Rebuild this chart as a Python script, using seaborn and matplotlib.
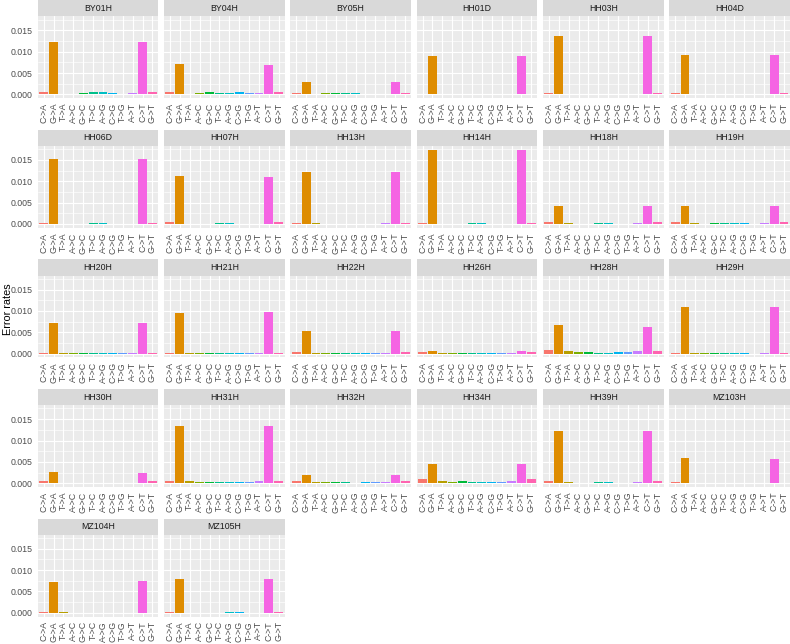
import numpy as np
import pandas as pd
import matplotlib
matplotlib.use("Agg")
import matplotlib.pyplot as plt
import seaborn as sns

# ------------------------------
# Data
# ------------------------------
mutations = ["C->A", "G->A", "T->A", "A->C", "G->C", "T->C",
             "A->G", "C->G", "T->G", "A->T", "C->T", "G->T"]

colors = ["#F8766D", "#DE8C00", "#B79F00", "#7CAE00", "#00BA38", "#00C08B",
          "#00BFC4", "#00B4F0", "#619CFF", "#C77CFF", "#F564E3", "#FF64B0"]

samples = ["BY01H", "BY04H", "BY05H", "HH01D", "HH03H", "HH04D",
           "HH06D", "HH07H", "HH13H", "HH14H", "HH18H", "HH19H",
           "HH20H", "HH21H", "HH22H", "HH26H", "HH28H", "HH29H",
           "HH30H", "HH31H", "HH32H", "HH34H", "HH39H", "MZ103H",
           "MZ104H", "MZ105H"]

BY01H = [0.00055, 0.0122, 0.0002, 0.0002, 0.0003, 0.0005, 0.0005, 0.0003, 0.0002, 0.0003, 0.0122, 0.0005]
BY04H = [0.0005, 0.0072, 0.0002, 0.0003, 0.0005, 0.0003, 0.0003, 0.0005, 0.0003, 0.0003, 0.0069, 0.0006]
BY05H = [0.0003, 0.0029, 0.0001, 0.0003, 0.0003, 0.0004, 0.0004, 0.0002, 0.0002, 0.0002, 0.0030, 0.0003]
HH01D = [0.0002, 0.0090, 0.00002, 0.00002, 0.00002, 0.00002, 0.00002, 0.00002, 0.00002, 0.00002, 0.0090, 0.00002]
HH03H = [0.0003, 0.0137, 0.00003, 0.00003, 0.00003, 0.0001, 0.0001, 0.00003, 0.00003, 0.00003, 0.0136, 0.0003]
HH04D = [0.0003, 0.0093, 0.0001, 0.0001, 0.0001, 0.0002, 0.0002, 0.0001, 0.0001, 0.0001, 0.0093, 0.0003]
HH06D = [0.0002, 0.0153, 0.0001, 0.00003, 0.0001, 0.0002, 0.0002, 0.0001, 0.00003, 0.0001, 0.0153, 0.0002]
HH07H = [0.0005, 0.0112, 0.0001, 0.00003, 0.00003, 0.0002, 0.0002, 0.00003, 0.00003, 0.00005, 0.0111, 0.0005]
HH13H = [0.0002, 0.0122, 0.0002, 0.00005, 0.00005, 0.00005, 0.00005, 0.00005, 0.00005, 0.0003, 0.0122, 0.0002]
HH14H = [0.0002, 0.0174, 0.00003, 0.00003, 0.00003, 0.0002, 0.0002, 0.00003, 0.00003, 0.00003, 0.0174, 0.0002]
HH18H = [0.0005, 0.0042, 0.0002, 0.0001, 0.0001, 0.0002, 0.0002, 0.0001, 0.00005, 0.0002, 0.0042, 0.0005]
HH19H = [0.0004, 0.0043, 0.0002, 0.0001, 0.0002, 0.0003, 0.0002, 0.0002, 0.0001, 0.0002, 0.0043, 0.0004]
HH20H = [0.0002, 0.0072, 0.0001, 0.0001, 0.0001, 0.0001, 0.0001, 0.00003, 0.00003, 0.0001, 0.00715, 0.0002]
HH21H = [0.0002, 0.0096, 0.00003, 0.00003, 0.00003, 0.0001, 0.0001, 0.00003, 0.00003, 0.00003, 0.0097, 0.00003]
HH22H = [0.0004, 0.0052, 0.0002, 0.0001, 0.0001, 0.0002, 0.00005, 0.0001, 0.0001, 0.0002, 0.0052, 0.0004]
HH26H = [0.0004, 0.0007, 0.0002, 0.0002, 0.0002, 0.0002, 0.0002, 0.0002, 0.0001, 0.0002, 0.0006, 0.0004]
HH28H = [0.0008, 0.0066, 0.0006, 0.0004, 0.0004, 0.0002, 0.00015, 0.0004, 0.0003, 0.0007, 0.0062, 0.0007]
HH29H = [0.0002, 0.0109, 0.0001, 0.0001, 0.0001, 0.0001, 0.0001, 0.0001, 0.00002, 0.0002, 0.0108, 0.0002]
HH30H = [0.0004, 0.0026, 0.0001, 0.0001, 0.0001, 0.0001, 0.0001, 0.00005, 0.00003, 0.0001, 0.0025, 0.0004]
HH31H = [0.0004, 0.0135, 0.0004, 0.0002, 0.0002, 0.0002, 0.0002, 0.0002, 0.0002, 0.0004, 0.0135, 0.0005]
HH32H = [0.0004, 0.0020, 0.0002, 0.0002, 0.0002, 0.0002, 0.0001, 0.0002, 0.0002, 0.0002, 0.0020, 0.0004]
HH34H = [0.0009, 0.0044, 0.0005, 0.0003, 0.0004, 0.0003, 0.0002, 0.0003, 0.0002, 0.0005, 0.0044, 0.0009]
HH39H = [0.0005, 0.0122, 0.0002, 0.0001, 0.0001, 0.0002, 0.0002, 0.0001, 0.00002, 0.0002, 0.0123, 0.0005]
MZ103H = [0.0002, 0.0060, 0.00003, 0.00003, 0.00003, 0.00003, 0.00003, 0.00003, 0.00003, 0.00003, 0.0056, 0.00003]
MZ104H = [0.0002, 0.0073, 0.0002, 0.00003, 0.00003, 0.00003, 0.00003, 0.00003, 0.00003, 0.00003, 0.0074, 0.00003]
MZ105H = [0.0003, 0.0079, 0.00003, 0.00003, 0.00003, 0.00003, 0.0001, 0.0001, 0.00003, 0.00003, 0.0079, 0.0002]

rates = [BY01H, BY04H, BY05H, HH01D, HH03H, HH04D,
         HH06D, HH07H, HH13H, HH14H, HH18H, HH19H,
         HH20H, HH21H, HH22H, HH26H, HH28H, HH29H,
         HH30H, HH31H, HH32H, HH34H, HH39H, MZ103H,
         MZ104H, MZ105H]

yticks = [0.0, 0.005, 0.010, 0.015]
ytick_labels = ["0.000", "0.005", "0.010", "0.015"]

# long format table
df = pd.DataFrame([
    {"sample": s, "mutation": m, "rate": v}
    for s, vals in zip(samples, rates)
    for m, v in zip(mutations, vals)
])

# ------------------------------
# Style
# ------------------------------
sns.set_style("white")
plt.rcParams["font.family"] = ["Liberation Sans", "DejaVu Sans"]

W, H = 790, 644
fig = plt.figure(figsize=(W / 100, H / 100), dpi=100)

left0, pw, gap = 37.7, 120.7, 5.6
top0, ph, strip_h, pitch = 16.4, 81.7, 16.2, 129.6

ymax = df["rate"].max()
ylim = (-0.05 * ymax, ymax * 1.05)

for i, s in enumerate(samples):
    r, c = divmod(i, 6)
    x0 = left0 + c * (pw + gap)
    ytop = top0 + r * pitch

    ax = fig.add_axes([x0 / W, 1 - (ytop + ph) / H, pw / W, ph / H])
    sub = df[df["sample"] == s]
    sns.barplot(data=sub, x="mutation", y="rate", hue="mutation",
                order=mutations, hue_order=mutations, palette=colors,
                width=0.9, errorbar=None, legend=False, saturation=1,
                linewidth=0, ax=ax)

    ax.set_facecolor("#EBEBEB")
    for sp in ax.spines.values():
        sp.set_visible(False)
    ax.set_xlim(-0.6, 11.6)
    ax.set_ylim(*ylim)
    ax.set_yticks(yticks)
    ax.set_yticks([0.0025, 0.0075, 0.0125, 0.0175], minor=True)
    ax.grid(True, which="major", color="white", linewidth=0.85)
    ax.grid(True, which="minor", axis="y", color="white", linewidth=0.45)
    ax.set_axisbelow(True)
    ax.set_xlabel("")
    ax.set_ylabel("")

    ax.set_xticks(range(len(mutations)))
    ax.set_xticklabels(mutations, rotation=90, fontsize=6.3, color="#4D4D4D")
    ax.tick_params(axis="x", length=2.2, width=0.5, color="#333333", pad=1.2)
    ax.tick_params(axis="y", which="minor", length=0)
    if c == 0:
        ax.set_yticklabels(ytick_labels, fontsize=6.3, color="#4D4D4D")
        ax.tick_params(axis="y", which="major", length=2.2, width=0.5,
                       color="#333333", pad=1.2)
    else:
        ax.set_yticklabels([])
        ax.tick_params(axis="y", which="major", length=0)

    # facet strip
    sax = fig.add_axes([x0 / W, 1 - ytop / H, pw / W, strip_h / H])
    sax.set_facecolor("#D9D9D9")
    sax.set_xticks([])
    sax.set_yticks([])
    for sp in sax.spines.values():
        sp.set_visible(False)
    sax.text(0.5, 0.5, s, ha="center", va="center", fontsize=6.3,
             color="#1A1A1A", transform=sax.transAxes)

fig.text(8 / W, 1 - 309 / H, "Error rates", rotation=90, ha="center",
         va="center", fontsize=7.8, color="black")

fig.savefig("out.png", dpi=100)
